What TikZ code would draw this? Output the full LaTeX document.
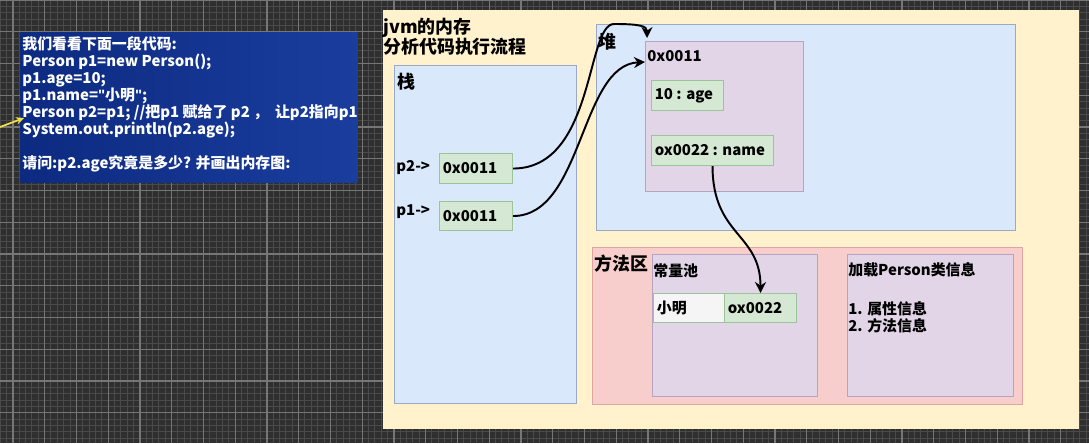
\documentclass[tikz,border=0pt]{standalone}
\usepackage{fontspec}
\setmainfont{Noto Sans CJK SC}[Ligatures=TeXOff]
\newfontfamily\quotefont{Liberation Sans}[Ligatures=TeXOff]
\usetikzlibrary{arrows.meta, calc}

\definecolor{canvas}{HTML}{2F2F2F}
\definecolor{gridminor}{HTML}{4A4A4A}
\definecolor{gridmajor}{HTML}{767676}
\definecolor{codeblueA}{HTML}{0C2A80}
\definecolor{codeblueB}{HTML}{1A3D9E}
\definecolor{panelyellow}{HTML}{FFF2CC}
\definecolor{memblue}{HTML}{DAE8FC}
\definecolor{memblueline}{HTML}{9AAAC4}
\definecolor{objpurple}{HTML}{E1D5E7}
\definecolor{objpurpleline}{HTML}{B7A3C2}
\definecolor{methodpink}{HTML}{F8CECC}
\definecolor{methodpinkline}{HTML}{E0A4A2}
\definecolor{cellgreen}{HTML}{D5E8D4}
\definecolor{cellgreenline}{HTML}{9CC49A}
\definecolor{cellwhite}{HTML}{F5F5F5}
\definecolor{pointeryellow}{HTML}{EDE04A}

\newcommand\dq{{\quotefont\symbol{34}}}

\begin{document}
\begin{tikzpicture}[x=0.2mm, y=-0.2mm, font=\bfseries\fontsize{8.5}{9.7}\selectfont]
  % One unit = one pixel of the screen shot, y runs downwards
  %   region = a memory area, #1 = width, #2 = height
  %   cell   = a small value box, #1 = width, #2 = height
  \tikzset{
    region/.style n args={2}{
      rectangle, anchor=north west, inner sep=0pt, line width=0.6pt,
      minimum width=#1*0.2mm, minimum height=#2*0.2mm
    },
    cell/.style n args={2}{
      region={#1}{#2}, fill=cellgreen, draw=cellgreenline
    },
    celltext/.style={anchor=west, inner sep=0pt, xshift=0.7mm},
    heading/.style={anchor=west, inner sep=0pt,
      font=\bfseries\fontsize{10.2}{11.5}\selectfont},
    plain/.style={anchor=west, inner sep=0pt},
    ref/.style={line width=1.1pt, -{Stealth[length=2.2mm, width=2.2mm]}}
  }

  \useasboundingbox (0,0) rectangle (1089,443);

  % dark editor canvas with its grid
  \fill[canvas] (0,0) rectangle (1089,443);
  \draw[gridminor, line width=0.4pt, step=1.27mm] (0,443) grid (1089,0);
  \begin{scope}[xshift=2.6mm]
    \draw[gridmajor, line width=0.6pt, step=6.35mm] (-13,443) grid (1076,0);
  \end{scope}

  % the code listing
  \node[region={337}{150}, left color=codeblueA, right color=codeblueB] (listing) at (20,32) {};
  \node[anchor=north west, inner sep=0pt, align=left, text=white]
    (code) at (22,36) {%
    我们看看下面一段代码:\\
    Person p1=new Person();\\
    p1.age=10;\\
    p1.name=\dq 小明\dq;\\
    Person p2=p1; //把p1 赋给了 p2 ，\ \ 让p2指向p1\\
    System.out.println(p2.age);\\[9.7pt]
    请问:p2.age究竟是多少? 并画出内存图:};

  \coordinate (ptrtail) at (0,127);
  \coordinate (ptrhead) at (24,118);
  \draw[pointeryellow, line width=1pt, -{Stealth[length=1.6mm, width=1.5mm]}]
    (ptrtail) -- (ptrhead);

  % jvm memory panel
  \node[region={696}{419}, fill=panelyellow] (jvm) at (382,9) {};
  \node[heading, align=left] (jvmtitle) at (383,37)
    {jvm的内存\\分析代码执行流程};

  % stack
  \node[region={182}{338}, fill=memblue, draw=memblueline] (stack) at (394,65) {};
  \node[heading] at (397,82) {栈};
  \node[plain] at (396,168) {p2->};
  \node[plain] at (396,212) {p1->};
  \node[cell={73}{30}] (p2ref) at (439,153) {};
  \node[celltext] at (p2ref.west) {0x0011};
  \node[cell={73}{29}] (p1ref) at (439,201) {};
  \node[celltext] at (p1ref.west) {0x0011};

  % heap
  \node[region={419}{206}, fill=memblue, draw=memblueline] (heap) at (596,24) {};
  \node[heading] at (598,42) {堆};
  \node[region={158}{150}, fill=objpurple, draw=objpurpleline] (obj) at (645,41) {};
  \node[plain] at (647,56) {0x0011};
  \node[cell={72}{30}] (age) at (651,80) {};
  \node[celltext] at (age.west) {10 : age};
  \node[cell={122}{30}] (name) at (651,135) {};
  \node[celltext] at (name.west) {ox0022 : name};

  % method area
  \node[region={430}{157}, fill=methodpink, draw=methodpinkline] (method) at (592,247) {};
  \node[heading] at (594,264) {方法区};
  \node[region={165}{142}, fill=objpurple, draw=objpurpleline] (pool) at (652,254) {};
  \node[plain] at (653,271) {常量池};
  \node[region={71}{29}, fill=cellwhite, draw=cellgreenline] (xiaoming) at (653,293) {};
  \node[celltext] at (xiaoming.west) {小明};
  \node[cell={72}{29}] (poolref) at (724,293) {};
  \node[celltext] at (poolref.west) {ox0022};
  \node[region={166}{142}, fill=objpurple, draw=objpurpleline] (classinfo) at (847,254) {};
  \node[plain] at (848,270) {加载Person类信息};
  \node[plain, align=left] at (848,317) {1. 属性信息\\2. 方法信息};

  % references
  \coordinate (top) at (614,24);
  \coordinate (p2tip) at (647,38);
  \coordinate (p1tip) at (645,62);
  \draw[line width=1.1pt] (p2ref.east) .. controls +(82,0) and +(-28,0) .. (top);
  \draw[ref] (top) .. controls +(26,0) and +(0,-12) .. (p2tip);
  \draw[ref] (p1ref.east) .. controls +(70,0) and +(-65,3) .. (p1tip);
  \draw[ref] (name.south) .. controls +(0,70) and +(0,-60) .. (poolref.north);
\end{tikzpicture}
\end{document}
